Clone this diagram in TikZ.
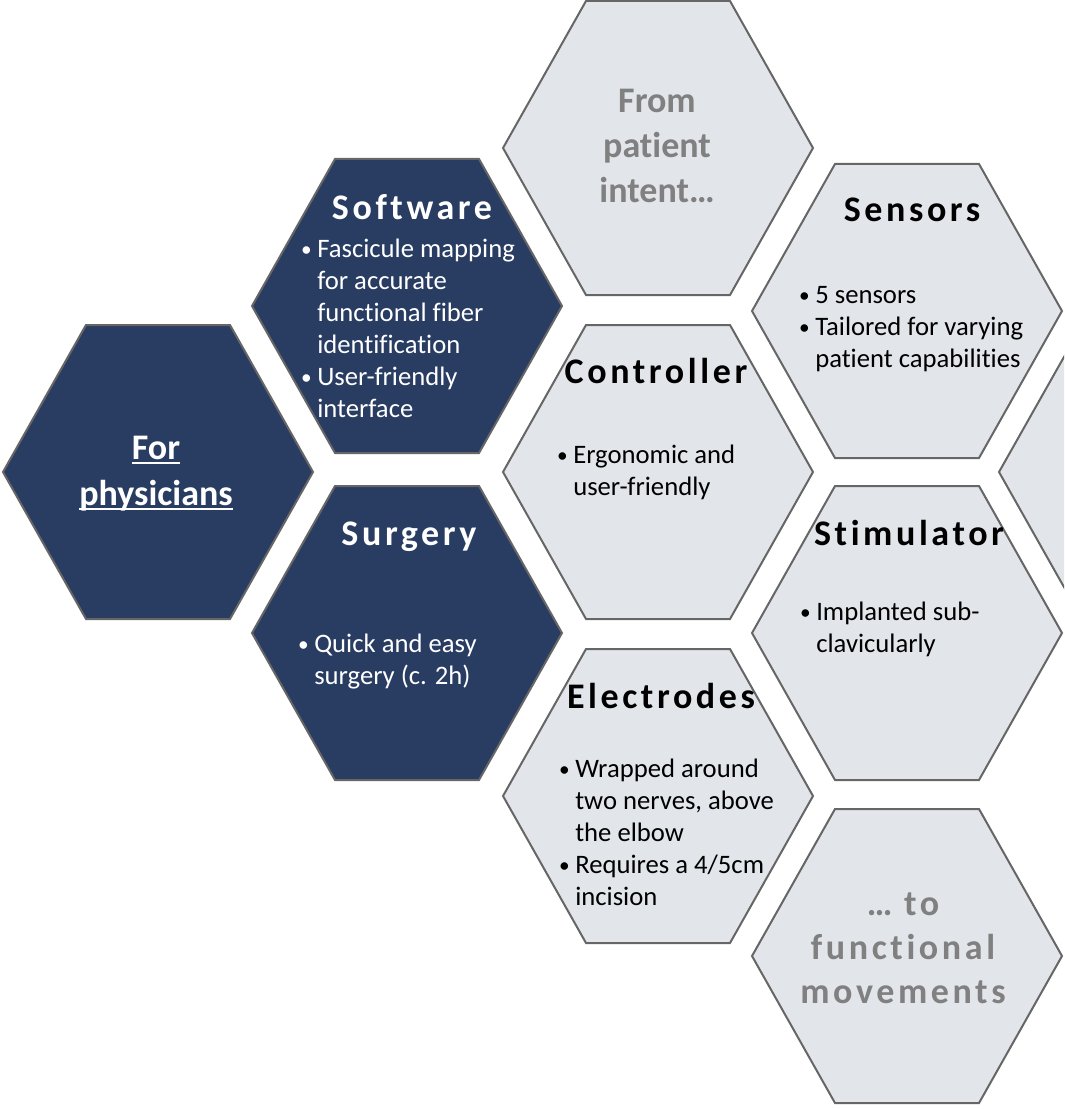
\documentclass[tikz,border=0pt]{standalone}
\usepackage{fontspec}
\setmainfont[Ligatures=NoCommon]{Carlito}
\newfontfamily\spacedfont[LetterSpace=10,Ligatures=NoCommon]{Carlito}
\definecolor{navy}{RGB}{41,60,97}
\definecolor{paleblue}{RGB}{226,229,234}
\definecolor{hexline}{RGB}{102,102,102}
\definecolor{softgray}{RGB}{128,128,128}
\newcommand{\hexuline}[1]{\setbox0\hbox{#1}\rlap{\rule[-3.6pt]{\wd0}{1.5pt}}\box0}
\newcommand{\hexbullet}{\makebox[12.75pt][l]{\hspace{0.6pt}\raisebox{0.6pt}{\scalebox{0.8}{\textbullet}}}}
\newcommand{\hexindent}{\hspace*{12.75pt}}
\newcommand{\hexcell}[3]{\draw[#1,shift={(#2,#3)}] (-155,0) -- (-72,-147) -- (72,-147) -- (155,0) -- (72,147) -- (-72,147) -- cycle;}
\tikzset{
  darkhex/.style={fill=navy,draw=hexline,line width=1.5pt},
  lighthex/.style={fill=paleblue,draw=hexline,line width=1.5pt},
  hextitle/.style={font=\spacedfont\bfseries\fontsize{27}{33}\selectfont,inner sep=0pt,anchor=base},
  hexbody/.style={font=\fontsize{20}{24}\selectfont,align=left,inner sep=0pt,anchor=base west},
  hexmotto/.style={font=\bfseries\fontsize{27}{34}\selectfont,align=center,inner sep=0pt,anchor=base}
}

\begin{document}
\begin{tikzpicture}[x=0.75pt,y=-0.75pt]
  \useasboundingbox (0,0) rectangle (1064,1109);
  \clip (0,0) rectangle (1064,1109);

  \hexcell{darkhex}{158}{472}
  \hexcell{darkhex}{407}{306}
  \hexcell{darkhex}{407}{633}
  \hexcell{lighthex}{658}{148}
  \hexcell{lighthex}{658}{472}
  \hexcell{lighthex}{658}{796}
  \hexcell{lighthex}{907}{311}
  \hexcell{lighthex}{907}{633}
  \hexcell{lighthex}{907}{956}
  \hexcell{lighthex}{1154}{472}

  \node[hexmotto,text=white] (physicians) at (156,505) {\hexuline{For}\\\hexuline{physicians}};
  \node[hexmotto,text=softgray] (intent) at (657,203) {From\\patient\\intent…};
  \node[hexmotto,font=\spacedfont\bfseries\fontsize{27}{33}\selectfont,text=softgray] (movements) at (903,1003) {… to\\functional\\movements};

  \node[hextitle,text=white] (softtitle) at (412,220) {Software};
  \node[hexbody,text=white] (softbody) at (300,417) {\hexbullet Fascicule mapping\\\hexindent for accurate\\\hexindent functional fiber\\\hexindent identification\\\hexbullet User-friendly\\\hexindent interface};

  \node[hextitle,text=white] (surgtitle) at (409,545) {Surgery};
  \node[hexbody,text=white] (surgbody) at (297,684) {\hexbullet Quick and easy\\\hexindent surgery (c. 2h)};

  \node[hextitle] (ctrltitle) at (656,383) {Controller};
  \node[hexbody] (ctrlbody) at (556,495) {\hexbullet Ergonomic and\\\hexindent user-friendly};

  \node[hextitle] (electitle) at (661,708) {Electrodes};
  \node[hexbody] (elecbody) at (558,905) {\hexbullet Wrapped around\\\hexindent two nerves, above\\\hexindent the elbow\\\hexbullet Requires a 4/5cm\\\hexindent incision};

  \node[hextitle] (senstitle) at (912,222) {Sensors};
  \node[hexbody] (sensbody) at (798,367) {\hexbullet 5 sensors\\\hexbullet Tailored for varying\\\hexindent patient capabilities};

  \node[hextitle] (stimtitle) at (909,545) {Stimulator};
  \node[hexbody] (stimbody) at (799,652) {\hexbullet Implanted sub-\\\hexindent clavicularly};
\end{tikzpicture}
\end{document}
